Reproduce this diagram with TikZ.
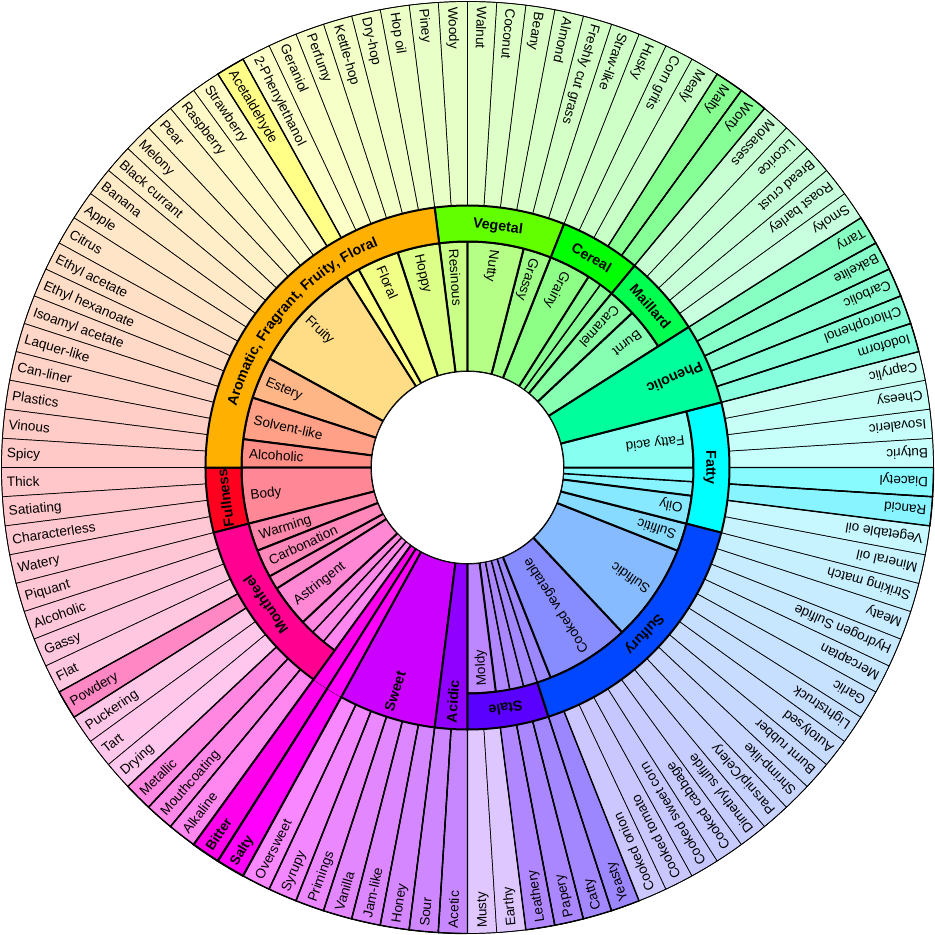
\PassOptionsToPackage{rgb}{xcolor}
\documentclass[tikz,border=0pt]{standalone}
\usepackage{fontspec}
\setmainfont{Liberation Sans}
\usetikzlibrary{decorations.text}

% ring segment between angles #1,#2 and radii #3,#4 (pt)
\newcommand\ringpart[4]{(#1:#3pt) arc[start angle=#1, end angle=#2, radius=#3pt] -- (#2:#4pt) arc[start angle=#2, end angle=#1, radius=#4pt] -- cycle}
% hue, saturation -> colour segcol
\newcommand\segcolour[2]{\definecolor{hsbtmp}{Hsb}{#1,#2,1}\colorlet{segcol}[rgb]{hsbtmp}}

\tikzset{
  thinline/.style={line width=0.7pt, draw=black},
  midline/.style={line width=1.4pt, draw=black},
  thickline/.style={line width=2pt, draw=black},
  leaflabel/.style={anchor=west, inner sep=0pt, text height=9.8pt, text depth=0pt, font=\fontsize{13.6}{16}\selectfont},
  sublabel/.style={leaflabel},
  catlabel/.style={anchor=center, inner sep=0pt, text height=10.3pt, text depth=0pt, font=\bfseries\fontsize{14.3}{17}\selectfont},
  radlabel/.style={catlabel, anchor=west}
}

\begin{document}
\begin{tikzpicture}[x=1pt, y=1pt]
\useasboundingbox (-467.5,-467.5) rectangle (467.5,467.5);
\fill[white] (-467.5,-467.5) rectangle (467.5,467.5);

% outer ring, 100 flavours of 3.6 degrees
\foreach \k/\name/\dep in {0/Butyric/3, 1/Isovaleric/3, 2/Cheesy/3, 3/Caprylic/3, 4/Iodoform/2,
  5/Chlorophenol/2, 6/Carbolic/2, 7/Bakelite/2, 8/Tarry/2, 9/Smoky/3, 10/Roast barley/3,
  11/Bread crust/3, 12/Licorice/3, 13/Molasses/3, 14/Worty/2, 15/Malty/2, 16/Mealy/3,
  17/Corn grits/3, 18/Husky/3, 19/Straw-like/3, 20/Freshly cut grass/3, 21/Almond/3, 22/Beany/3,
  23/Coconut/3, 24/Walnut/3, 25/Woody/3, 26/Piney/3, 27/Hop oil/3, 28/Dry-hop/3, 29/Kettle-hop/3,
  30/Perfumy/3, 31/Geraniol/3, 32/2-Phenylethanol/3, 33/Acetaldehyde/2, 34/Strawberry/3,
  35/Raspberry/3, 36/Pear/3, 37/Melony/3, 38/Black currant/3, 39/Banana/3, 40/Apple/3,
  41/Citrus/3, 42/Ethyl acetate/3, 43/Ethyl hexanoate/3, 44/Isoamyl acetate/3, 45/Laquer-like/3,
  46/Can-liner/3, 47/Plastics/3, 48/Vinous/3, 49/Spicy/3, 50/Thick/3, 51/Satiating/3,
  52/Characterless/3, 53/Watery/3, 54/Piquant/3, 55/Alcoholic/3, 56/Gassy/3, 57/Flat/3,
  58/Powdery/2, 59/Puckering/3, 60/Tart/3, 61/Drying/3, 62/Metallic/2, 63/Mouthcoating/2,
  64/Alkaline/2, 65/Bitter/1, 66/Salty/1, 67/Oversweet/2, 68/Syrupy/2, 69/Primings/2,
  70/Vanilla/2, 71/Jam-like/2, 72/Honey/2, 73/Sour/2, 74/Acetic/2, 75/Musty/3, 76/Earthy/3,
  77/Leathery/2, 78/Papery/2, 79/Catty/2, 80/Yeasty/2, 81/Cooked onion/3, 82/Cooked tomato/3,
  83/Cooked sweet corn/3, 84/Cooked cabbage/3, 85/Dimethyl sulfide/3, 86/{Parsnip/Celery}/3,
  87/Shrimp-like/3, 88/Burnt rubber/3, 89/Autolysed/3, 90/Lightstruck/3, 91/Garlic/3,
  92/Mercaptan/3, 93/Hydrogen Sulfide/3, 94/Meaty/3, 95/Striking match/3, 96/Mineral oil/3,
  97/Vegetable oil/3, 98/Rancid/2, 99/Diacetyl/2}{
  \pgfmathsetmacro\a{3.6*\k}
  \pgfmathsetmacro\b{3.6*\k+3.6}
  \pgfmathsetmacro\m{3.6*\k+1.8}
  \pgfmathsetmacro\hue{mod(540-\m,360)}
  \pgfmathsetmacro\sat{\dep==3 ? 0.22 : (\dep==2 ? 0.47 : 1)}
  \segcolour{\hue}{\sat}
  \filldraw[fill=segcol, thinline] \ringpart{\a}{\b}{262}{466};
  \node[leaflabel, rotate=\m+180] (o\k) at (\m:461pt) {\ifnum\dep=1 \bfseries\fi\name};
}

% flavours hanging directly below a class
\foreach \k in {4,5,6,7,8,14,15,33,58,62,63,64,67,68,69,70,71,72,73,74,77,78,79,80,98,99}{
  \pgfmathsetmacro\a{3.6*\k}
  \pgfmathsetmacro\b{3.6*\k+3.6}
  \pgfmathsetmacro\hue{mod(540-\a-1.8,360)}
  \segcolour{\hue}{0.47}
  \fill[segcol] \ringpart{\a}{\b}{96}{262};
  \draw[midline] \ringpart{\a}{\b}{96}{466};
}
\foreach \k in {65,66}{
  \pgfmathsetmacro\a{3.6*\k}
  \pgfmathsetmacro\b{3.6*\k+3.6}
  \pgfmathsetmacro\hue{mod(540-\a-1.8,360)}
  \segcolour{\hue}{1}
  \fill[segcol] \ringpart{\a}{\b}{96}{262};
  \draw[thickline] \ringpart{\a}{\b}{96}{466};
}

% inner ring
\foreach \s/\e/\name in {0/4/Fatty acid, 9/12/Burnt, 12/14/Caramel, 16/19/Grainy, 19/21/Grassy,
  21/25/Nutty, 25/27/Resinous, 27/30/Hoppy, 30/33/Floral, 34/42/Fruity, 42/45/Estery,
  45/48/Solvent-like, 48/50/Alcoholic, 50/54/Body, 54/56/Warming, 56/58/Carbonation,
  59/62/Astringent, 75/77/Moldy, 81/87/Cooked vegetable, 87/94/Sulfidic, 94/96/Sulfitic, 96/98/Oily}{
  \pgfmathsetmacro\a{3.6*\s}
  \pgfmathsetmacro\b{3.6*\e}
  \pgfmathsetmacro\m{(\a+\b)/2}
  \pgfmathsetmacro\hue{mod(540-\m,360)}
  \segcolour{\hue}{0.47}
  \filldraw[fill=segcol, thickline] \ringpart{\a}{\b}{96}{226};
  \node[sublabel, rotate=\m+180] (t\s) at (\m:219pt) {\name};
}

% class band
\foreach \s/\e/\id/\name in {-14.4/14.4/fatty/Fatty, 32.4/50.4/maillard/Maillard,
  50.4/68.4/cereal/Cereal, 68.4/97.2/vegetal/Vegetal, 180/194.4/fullness/Fullness,
  194.4/234/mouthfeel/Mouthfeel, 270/288/stale/Stale, 288/345.6/sulfury/Sulfury}{
  \pgfmathsetmacro\m{(\s+\e)/2}
  \pgfmathsetmacro\hue{mod(540-\m,360)}
  \segcolour{\hue}{1}
  \filldraw[fill=segcol, thickline] \ringpart{\s}{\e}{226}{262};
  \node[catlabel, rotate=\m-90] (\id) at (\m:244pt) {\name};
}
\segcolour{41.4}{1}
\filldraw[fill=segcol, thickline] \ringpart{97.2}{180}{226}{262};
\path[decorate, decoration={text along path, text align=center,
  text={|\bfseries\fontsize{14.3}{17}\selectfont|Aromatic, Fragrant, Fruity, Floral}}]
  (179.6:238.8pt) arc[start angle=179.6, end angle=97.6, radius=238.8pt];

% classes without sub-classes
\foreach \s/\e/\id/\name in {14.4/32.4/phenolic/Phenolic, 241.2/262.8/sweet/Sweet, 262.8/270/acidic/Acidic}{
  \pgfmathsetmacro\m{(\s+\e)/2}
  \pgfmathsetmacro\hue{mod(540-\m,360)}
  \segcolour{\hue}{1}
  \filldraw[fill=segcol, thickline] \ringpart{\s}{\e}{96}{262};
  \node[radlabel, rotate=\m+180] (\id) at (\m:256pt) {\name};
}

\filldraw[fill=white, thinline] (0,0) circle[radius=96pt];
\draw[thinline] (0,0) circle[radius=466pt];
\end{tikzpicture}
\end{document}
